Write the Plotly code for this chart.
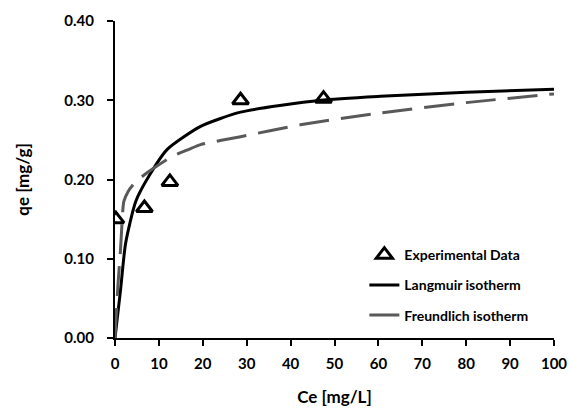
import plotly.graph_objects as go

# Experimental data
exp_ce = [0.2, 6.7, 12.5, 28.6, 47.5]
exp_qe = [0.150, 0.164, 0.197, 0.300, 0.302]

# Langmuir isotherm
lang_ce = [0, 1.25, 2.4, 4.7, 7.7, 11.9, 19.5, 28.6, 46.8, 60.4, 80, 100]
lang_qe = [0, 0.060, 0.119, 0.172, 0.204, 0.238, 0.267, 0.285, 0.300, 0.305, 0.310, 0.314]

# Freundlich isotherm
freu_ce = [0, 0.7, 1.25, 1.6, 2.0, 3.0, 4.7, 7.7, 13, 16.8, 19.5, 28.6, 42.2, 60.4, 80, 100]
freu_qe = [0, 0.069, 0.111, 0.145, 0.172, 0.185, 0.197, 0.210, 0.229, 0.238, 0.244, 0.254, 0.269, 0.284, 0.297, 0.308]

x_ticks = [0, 10, 20, 30, 40, 50, 60, 70, 80, 90, 100]
y_ticks = [0.0, 0.1, 0.2, 0.3, 0.4]

FONT = "Lato"

fig = go.Figure()
fig.add_trace(go.Scatter(
    x=exp_ce, y=exp_qe, mode="markers", name="Experimental Data",
    legendgroup="a",
    marker=dict(symbol="triangle-up-open", size=14, color="black",
                line=dict(width=3, color="black")),
))
fig.add_trace(go.Scatter(
    x=lang_ce, y=lang_qe, mode="lines", name="Langmuir isotherm",
    legendgroup="b",
    line=dict(color="black", width=3, shape="spline", smoothing=0.6),
))
fig.add_trace(go.Scatter(
    x=freu_ce, y=freu_qe, mode="lines", name="Freundlich isotherm",
    legendgroup="c",
    line=dict(color="#595959", width=3, dash="30px,12px", shape="spline", smoothing=0.6),
))

fig.update_layout(
    width=569, height=410,
    margin=dict(l=114.5, r=15, t=21.3, b=72.3, autoexpand=False),
    plot_bgcolor="white", paper_bgcolor="white",
    font=dict(family=FONT, color="black"),
    showlegend=True,
    legend=dict(
        x=0.568, y=0.312, xanchor="left", yanchor="top",
        bgcolor="rgba(0,0,0,0)",
        font=dict(family=FONT, size=14, color="black", weight="bold"),
        traceorder="grouped", tracegroupgap=9,
    ),
    xaxis=dict(
        range=[0, 100], tickvals=x_ticks, ticktext=[str(v) for v in x_ticks],
        automargin=False,
        showgrid=False, zeroline=False,
        showline=True, linecolor="black", linewidth=2,
        ticks="outside", ticklen=6, tickwidth=2, tickcolor="black",
        ticklabelstandoff=5,
        tickfont=dict(family=FONT, size=15, weight="bold"),
        title=dict(text="<b>Ce [mg/L]</b>", font=dict(family=FONT, size=17), standoff=20),
    ),
    yaxis=dict(
        range=[0, 0.4], tickvals=y_ticks, ticktext=[f"{v:.2f}" for v in y_ticks],
        automargin=False,
        showgrid=False, zeroline=False,
        showline=True, linecolor="black", linewidth=2,
        ticks="outside", ticklen=6, tickwidth=2, tickcolor="black",
        ticklabelstandoff=10,
        tickfont=dict(family=FONT, size=15, weight="bold"),
        title=dict(text="<b>qe [mg/g]</b>", font=dict(family=FONT, size=17), standoff=30),
    ),
)

fig.write_html(
    "out.html",
    config={"displayModeBar": False},
    post_script="document.body.style.margin='0';document.documentElement.style.overflow='hidden';document.body.style.overflow='hidden';",
)
